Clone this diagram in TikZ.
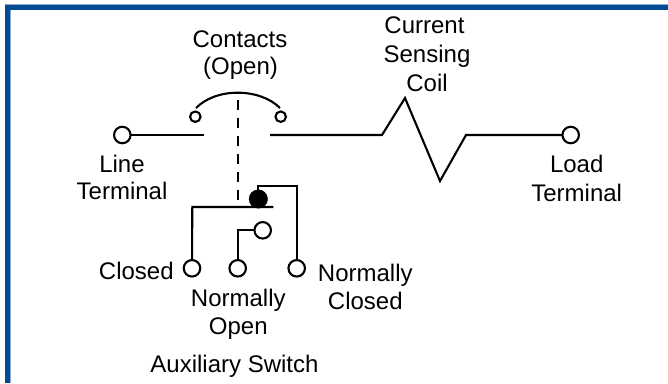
\documentclass[tikz,border=0pt]{standalone}
\usepackage{fontspec}
\setmainfont{Liberation Sans}
\definecolor{framebg}{RGB}{0,75,145}
\definecolor{framelt}{RGB}{140,170,205}
\tikzset{
 wire/.style={line width=2.1pt,black},
 term/.style={circle,draw=black,line width=2.1pt,fill=white,minimum size=16.5pt,inner sep=0pt},
 cont/.style={circle,draw=black,line width=2.1pt,fill=white,minimum size=10.5pt,inner sep=0pt},
 dot/.style={circle,fill=black,draw=black,minimum size=18.5pt,inner sep=0pt},
 lbl/.style={inner sep=0pt,font=\fontsize{24}{24}\selectfont,text=black,anchor=base}
}
\begin{document}
\begin{tikzpicture}[x=1pt,y=-1pt]
\useasboundingbox (0,0) rectangle (668,383);
\fill[white] (0,0) rectangle (668,383);
\fill[framelt] (5,4) rectangle (668,383);
\fill[framebg] (5,5) rectangle (668,383);
\fill[framelt] (9.7,9.7) rectangle (668,383);
\fill[white] (10.8,9.7) rectangle (668,383);
\coordinate (le) at (203.5,135);
\coordinate (rs) at (270,135);
\coordinate (k1) at (382,135);
\coordinate (k2) at (405,98);
\coordinate (k3) at (440,181);
\coordinate (k4) at (466,135);
\coordinate (bl) at (192.3,207);
\coordinate (br) at (273.3,207);
\coordinate (dt) at (237.7,100);
\coordinate (db) at (237.7,200);
\coordinate (nk) at (296.7,186);
\draw[wire] (122.3,135) -- (le);
\draw[wire,line join=miter] (rs) -- (k1) -- (k2) -- (k3) -- (k4) -- (570.7,135);
\draw[wire] (196,108) .. controls (206,98) and (221,92.7) .. (237.7,92.7) .. controls (254,92.7) and (270,98) .. (280,108);
\draw[wire,dash pattern=on 10pt off 8pt] (dt) -- (db);
\draw[wire] (br) -- (bl) -- (192,268.3);
\draw[wire] (258.3,199) |- (nk) -- (296.7,268.3);
\draw[wire] (237.7,268.3) |- (262.7,230.3);
\node[term] (lt) at (122.3,135) {};
\node[term] (ld) at (570.7,135) {};
\node[cont] (c1) at (195.3,116.7) {};
\node[cont] (c2) at (280.7,116.7) {};
\node[term] (cl) at (192,268.3) {};
\node[term] (no) at (237.7,268.3) {};
\node[term] (nc) at (296.7,268.3) {};
\node[term] (ar) at (262.7,230.3) {};
\node[dot] (pv) at (258.3,199) {};
\node[lbl] (t1) at (240,47.5) {Contacts};
\node[lbl] (t2) at (240.5,74) {(Open)};
\node[lbl] (t3) at (424.5,33) {Current};
\node[lbl] (t4) at (427,62.3) {Sensing};
\node[lbl] (t5) at (427,91.7) {Coil};
\node[lbl] (t6) at (122,172) {Line};
\node[lbl] (t7) at (122,199.5) {Terminal};
\node[lbl] (t8) at (576.7,172.5) {Load};
\node[lbl] (t9) at (576.7,201) {Terminal};
\node[lbl] (t10) at (136.3,279) {Closed};
\node[lbl] (t11) at (238.3,306.7) {Normally};
\node[lbl] (t12) at (238.3,334) {Open};
\node[lbl] (t13) at (365.3,281) {Normally};
\node[lbl] (t14) at (365.3,309) {Closed};
\node[lbl] (t15) at (234.5,372) {Auxiliary Switch};
\end{tikzpicture}
\end{document}
